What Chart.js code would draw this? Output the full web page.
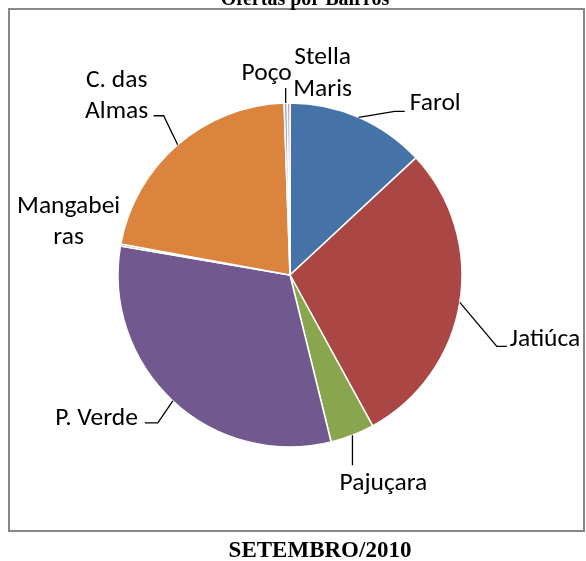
<!DOCTYPE html>
<html>
<head>
<meta charset="utf-8">
<script src="https://cdn.jsdelivr.net/npm/chart.js@4.4.0/dist/chart.umd.min.js"></script>
<style>
  html, body { margin: 0; padding: 0; background: #fff; }
  canvas { display: block; }
</style>
</head>
<body>
<canvas id="pieBairros" width="586" height="561"></canvas>
<script>
const labels = ["Farol", "Jatiúca", "Pajuçara", "P. Verde", "Mangabeiras", "C. das Almas", "Poço", "Stella Maris"];
const values = [13.1, 29.0, 4.15, 31.6, 0.2, 21.6, 0.3, 0.25];
const colors = ["#4572A7", "#AA4643", "#89A54E", "#71588F", "#4198AF", "#DB843D", "#93A9CF", "#D19392"];
const chartTitle = "Ofertas por Bairros";
const period = "SETEMBRO/2010";

// label placement, relative to the point on the rim at the middle of each slice
const labelLayout = {
  "Farol": { lines: ["Farol"], align: "left", dx: 51, dy: -7, leader: [[36, -6], [46, -6]] },
  "Jatiúca": { lines: ["Jatiúca"], align: "left", dx: 50, dy: 44, leader: [[37, 44], [47, 44]] },
  "Pajuçara": { lines: ["Pajuçara"], align: "center", dx: 31, dy: 55, leader: [[0, 30]] },
  "P. Verde": { lines: ["P. Verde"], align: "right", dx: -35, dy: 24, leader: [[-15, 22], [-28, 22]] },
  "Mangabeiras": { lines: ["Mangabei", "ras"], align: "center", dx: -52, dy: -32, leader: [] },
  "C. das Almas": { lines: ["C. das", "Almas"], align: "center", dx: -61, dy: -58, leader: [[-14, -29], [-24, -29]] },
  "Poço": { lines: ["Poço"], align: "center", dx: -19, dy: -23, leader: [[0, -15]] },
  "Stella Maris": { lines: ["Stella", "Maris"], align: "center", dx: 34, dy: -39, leader: [] },
};

const frameAndLabels = {
  id: "frameAndLabels",
  beforeDraw(chart) {
    const { ctx } = chart;
    ctx.save();
    ctx.fillStyle = "#fff";
    ctx.fillRect(0, 0, chart.width, chart.height);
    ctx.strokeStyle = "#878787";
    ctx.lineWidth = 2;
    ctx.strokeRect(9, 9, 575, 522);
    ctx.restore();
  },
  afterDatasetsDraw(chart) {
    const { ctx } = chart;
    const meta = chart.getDatasetMeta(0);
    ctx.save();
    ctx.font = "25.5px Carlito, Calibri, Lato, sans-serif";
    ctx.fillStyle = "#000";
    ctx.strokeStyle = "#000";
    ctx.lineWidth = 1.3;
    ctx.textBaseline = "alphabetic";

    meta.data.forEach((arc, i) => {
      const lay = labelLayout[chart.data.labels[i]];
      const mid = (arc.startAngle + arc.endAngle) / 2;
      const px = arc.x + Math.cos(mid) * arc.outerRadius;
      const py = arc.y + Math.sin(mid) * arc.outerRadius;

      if (lay.leader.length) {
        ctx.beginPath();
        ctx.moveTo(px, py);
        lay.leader.forEach(([lx, ly]) => ctx.lineTo(px + lx, py + ly));
        ctx.stroke();
      }

      ctx.textAlign = lay.align;
      lay.lines.forEach((line, k) => {
        ctx.fillText(line, px + lay.dx, py + lay.dy + k * 31.5);
      });
    });

    ctx.textAlign = "center";
    ctx.font = "bold 20px 'Liberation Serif', 'Times New Roman', serif";
    ctx.fillText(chartTitle, 305, 5);
    ctx.font = "bold 23px 'Liberation Serif', 'Times New Roman', serif";
    ctx.fillText(period, 320, 557);
    ctx.restore();
  },
};

new Chart(document.getElementById("pieBairros").getContext("2d"), {
  type: "pie",
  data: {
    labels,
    datasets: [
      {
        data: values,
        backgroundColor: colors,
        borderColor: "#fff",
        borderWidth: 1.5,
        radius: 172,
      },
    ],
  },
  options: {
    responsive: false,
    animation: false,
    layout: {
      padding: { left: 100, right: 106, top: 80, bottom: 91 },
    },
    plugins: {
      legend: { display: false },
      tooltip: { enabled: false },
    },
  },
  plugins: [frameAndLabels],
});
</script>
</body>
</html>
